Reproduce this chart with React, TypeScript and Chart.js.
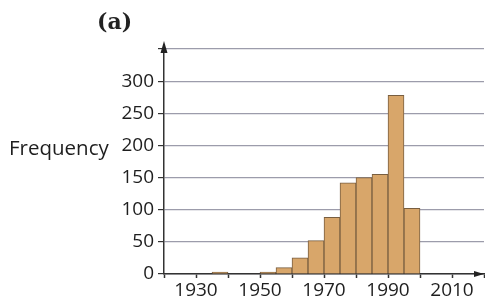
import React, { useEffect, useRef } from "react";
import { Chart, registerables } from "chart.js";

Chart.register(...registerables);

const binStarts = [1935, 1950, 1955, 1960, 1965, 1970, 1975, 1980, 1985, 1990, 1995];
const frequencies = [3, 3, 10, 25, 52, 88, 142, 150, 155, 278, 102];
const binWidth = 5;
const xLabelYears = [1930, 1950, 1970, 1990, 2010];
const yTickValues = [0, 50, 100, 150, 200, 250, 300];

const arrowPlugin = {
  id: "arrows",
  afterDraw(chart: any) {
    const { ctx, chartArea } = chart;
    ctx.save();
    ctx.fillStyle = "#222";
    const x0 = chartArea.left;
    const yTop = chartArea.top - 2;
    ctx.beginPath();
    ctx.moveTo(x0, yTop - 6);
    ctx.lineTo(x0 - 3.5, yTop + 6);
    ctx.lineTo(x0 + 3.5, yTop + 6);
    ctx.closePath();
    ctx.fill();
    const y0 = chartArea.bottom;
    const xr = chartArea.right - 4;
    ctx.beginPath();
    ctx.moveTo(xr + 4, y0);
    ctx.lineTo(xr - 6, y0 - 3);
    ctx.lineTo(xr - 6, y0 + 3);
    ctx.closePath();
    ctx.fill();
    ctx.restore();
  },
};

function App() {
  const ref = useRef<HTMLCanvasElement | null>(null);
  useEffect(() => {
    const data = binStarts.map((s, i) => ({ x: s + binWidth / 2, y: frequencies[i] }));
    const chart = new Chart(ref.current as HTMLCanvasElement, {
      type: "bar",
      data: {
        datasets: [
          {
            data: data as any,
            backgroundColor: "rgb(216,166,106)",
            borderColor: "rgb(120,94,64)",
            borderWidth: 1,
            barPercentage: 1,
            categoryPercentage: 1,
          },
        ],
      },
      plugins: [arrowPlugin],
      options: {
        animation: false,
        responsive: false,
        maintainAspectRatio: false,
        layout: { padding: { top: 49, right: 0, left: 0, bottom: 0 } },
        plugins: { legend: { display: false }, tooltip: { enabled: false } },
        scales: {
          x: {
            type: "linear",
            offset: false,
            min: 1920,
            max: 2020,
            afterFit: (s: any) => {
              s.height = 30;
            },
            border: { color: "#333", width: 1.5 },
            grid: { offset: false, drawOnChartArea: false, tickColor: "#333", tickLength: 4, tickWidth: 1.5 },
            ticks: {
              stepSize: 10,
              autoSkip: false,
              maxRotation: 0,
              padding: 1,
              color: "#1e1e1e",
              font: { family: "Open Sans", size: 19 },
              callback: (v: any) => (xLabelYears.includes(Number(v)) ? String(v) : ""),
            },
          },
          y: {
            min: 0,
            max: 350,
            afterFit: (s: any) => {
              s.width = 164;
            },
            border: { color: "#333", width: 1.5 },
            grid: { color: "#9c9cab", lineWidth: 1.2, tickColor: "#333", tickLength: 6 },
            ticks: {
              stepSize: 50,
              padding: 4,
              color: "#1e1e1e",
              font: { family: "Open Sans", size: 19 },
              callback: (v: any) => (yTickValues.includes(Number(v)) ? String(v) : ""),
            },
          },
        },
      },
    });
    return () => chart.destroy();
  }, []);

  return (
    <div style={{ position: "fixed", left: 0, top: 0, width: 485, height: 304, background: "#fff" }}>
      <canvas ref={ref} width={485} height={304} style={{ width: 485, height: 304, display: "block" }} />
      <div
        style={{
          position: "absolute",
          left: 97,
          top: 8,
          fontFamily: "'DejaVu Serif', 'Liberation Serif', serif",
          fontWeight: "bold",
          fontSize: 22,
          lineHeight: "26px",
          color: "#222",
        }}
      >
        (a)
      </div>
      <div
        style={{
          position: "absolute",
          left: 9,
          top: 133,
          fontFamily: "'Open Sans', sans-serif",
          fontSize: 20.5,
          color: "#1e1e1e",
          whiteSpace: "nowrap",
        }}
      >
        Frequency
      </div>
    </div>
  );
}

export default App;
